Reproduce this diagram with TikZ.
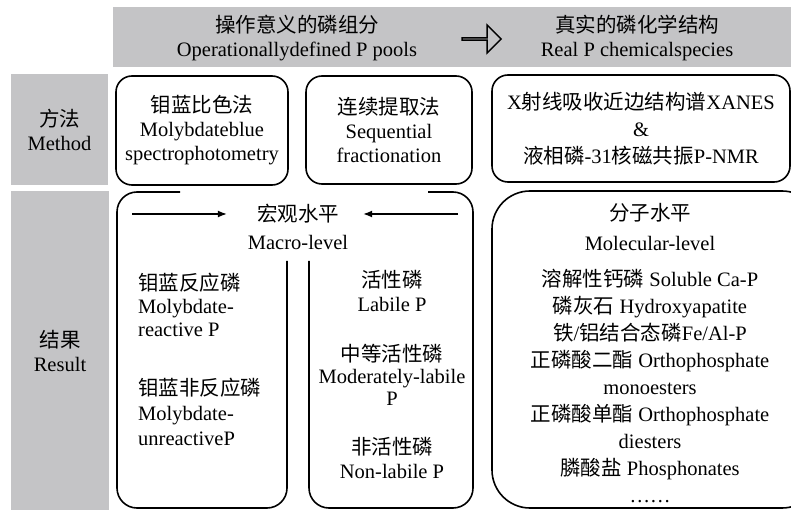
\documentclass[tikz,border=0pt]{standalone}
\usepackage{fontspec}
\setmainfont{Liberation Serif}
\newfontfamily\zhfont{Noto Sans CJK SC}
\newcommand{\zh}[1]{{\zhfont #1}}
\usepackage{tikz}
\usetikzlibrary{positioning, shapes.arrows, arrows.meta}
\definecolor{cellgray}{RGB}{196,196,198}
\tikzset{
  cell/.style={rectangle, fill=cellgray, align=center, inner sep=0pt},
  method/.style={rectangle, draw=black, line width=1.6pt, rounded corners=16pt, align=center, inner sep=0pt},
  txt/.style={align=center, inner sep=0pt},
  frame/.style={line width=1.6pt, rounded corners=20pt},
  arrow/.style={line width=1.3pt, -{Latex[length=9pt, width=7pt]}},
}

\begin{document}
\begin{tikzpicture}[x=1pt, y=-1pt, font=\fontsize{20.5}{24}\selectfont]
          \clip (0,0) rectangle (791,510);

          % header band
          \fill[cellgray] (113,7) rectangle (791,67);
          \node[txt] (ophead) at (297,38) {\zh{操作意义的磷组分}\\Operationallydefined P pools};
          \node[txt] (realhead) at (637,38) {\zh{真实的磷化学结构}\\Real P chemicalspecies};
          \node[single arrow, draw=black, fill=cellgray, line width=1.4pt, inner sep=0pt,
                minimum width=28pt, single arrow head extend=8pt, minimum height=39pt] (shift) at (481,39) {};

          % row labels
          \node[cell, minimum width=97pt, minimum height=111pt] (methodcell) at (59.5,129.5) {\zh{方法}\\Method};
          \node[cell, minimum width=98pt, minimum height=319pt] (resultcell) at (60,350.5) {\zh{结果}\\Result};

          % method row
          \node[method, minimum width=172pt, minimum height=109pt] (molyblue) at (202,130.5) {\zh{钼蓝比色法}\\Molybdateblue\\spectrophotometry};
          \node[method, minimum width=166pt, minimum height=108pt] (seqfrac) at (389,130) {\zh{连续提取法}\\Sequential\\fractionation};
          \node[method, minimum width=298pt, minimum height=107pt, font=\fontsize{20.5}{27}\selectfont] (xanes) at (641,128.5)
                {X\zh{射线吸收近边结构谱}XANES\\\&\\\zh{液相磷}-31\zh{核磁共振}P-NMR};

          % macro-level frame
          \draw[frame] (180,192) -- (117,192) -- (117,508) -- (287,508) -- (287,261);
          \draw[frame] (309,261) -- (309,508) -- (473,508) -- (473,192) -- (428,192);
          \node[txt] (macro) at (298,214) {\zh{宏观水平}};
          \node[txt] (macroen) at (298,242) {Macro-level};
          \coordinate (lstart) at (132,214);
          \coordinate (rstart) at (458,214);
          \draw[arrow, shorten >=30pt] (lstart) -- (macro);
          \draw[arrow, shorten >=24pt] (rstart) -- (macro);

          \node[txt, anchor=west, align=left, font=\fontsize{20.5}{23}\selectfont] (reactive) at (138,305) {\zh{钼蓝反应磷}\\Molybdate-\\reactive P};
          \node[txt, anchor=west, align=left, font=\fontsize{20.5}{25}\selectfont] (unreactive) at (138,412) {\zh{钼蓝非反应磷}\\Molybdate-\\unreactiveP};

          \node[txt] (labile) at (392,291) {\zh{活性磷}\\Labile P};
          \node[txt, font=\fontsize{20.5}{22}\selectfont] (modlabile) at (392,375) {\zh{中等活性磷}\\Moderately-labile\\P};
          \node[txt] (nonlabile) at (392,458) {\zh{非活性磷}\\Non-labile P};

          % molecular-level frame
          \draw[frame, rounded corners=38pt] (492,191) rectangle (820,508);
          \node[txt] (mol) at (650,213) {\zh{分子水平}};
          \node[txt] (molen) at (650,243) {Molecular-level};
          \node[txt, font=\fontsize{20.5}{27.1}\selectfont] (species) at (650,386)
                {\zh{溶解性钙磷} Soluble Ca-P\\
                 \zh{磷灰石} Hydroxyapatite\\
                 \zh{铁}/\zh{铝结合态磷}Fe/Al-P\\
                 \zh{正磷酸二酯} Orthophosphate\\
                 monoesters\\
                 \zh{正磷酸单酯} Orthophosphate\\
                 diesters\\
                 \zh{膦酸盐} Phosphonates\\
                 ……};
        \end{tikzpicture}
\end{document}
